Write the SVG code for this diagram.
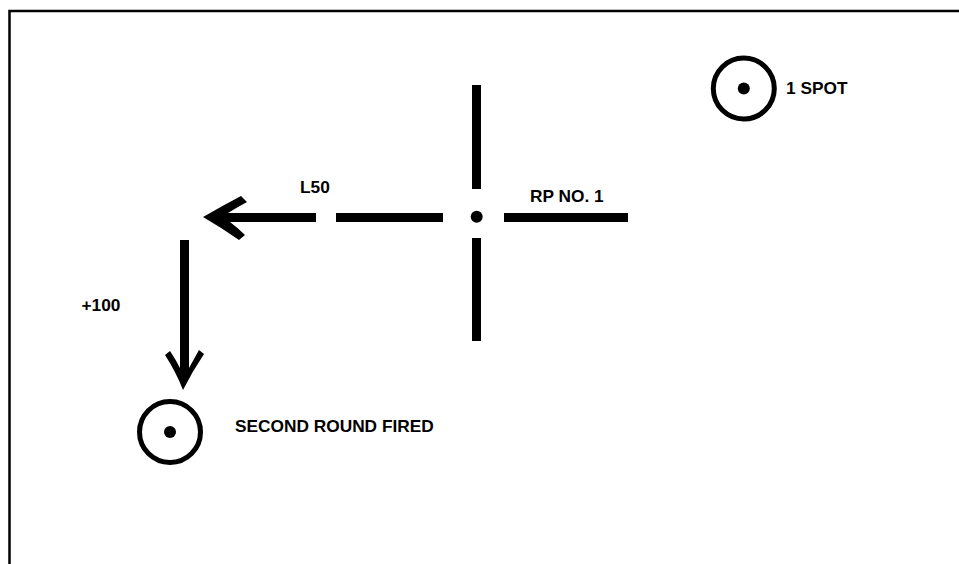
<svg xmlns="http://www.w3.org/2000/svg" width="959" height="564" viewBox="0 0 959 564">
<style>
.lbl{font-family:"Liberation Sans",Arial,sans-serif;font-weight:bold;font-size:17.3px;fill:#000}
.bar{stroke:#000;stroke-width:9;fill:none}
.ring{stroke:#000;stroke-width:5;fill:none}
.dot{fill:#000}
.head{fill:#000;stroke:none}
</style>
<rect width="959" height="564" fill="#fff"/>
<polyline points="9.5,564 9.5,11 959,11" fill="none" stroke="#000" stroke-width="2.5"/>
<g id="spot1">
<circle class="ring" cx="743.8" cy="88.5" r="30.5"/>
<circle class="dot" cx="743.8" cy="88.5" r="6"/>
<text class="lbl" x="786" y="94.3">1 SPOT</text>
</g>
<g id="rp1">
<line class="bar" x1="476.5" y1="85" x2="476.5" y2="189"/>
<line class="bar" x1="476.5" y1="238" x2="476.5" y2="341"/>
<line class="bar" x1="504" y1="217.5" x2="628" y2="217.5"/>
<circle class="dot" cx="476.7" cy="216.8" r="6"/>
<text class="lbl" x="530" y="202.3">RP NO. 1</text>
</g>
<g id="round2">
<circle class="ring" cx="170" cy="432" r="30.5"/>
<circle class="dot" cx="170" cy="432" r="6"/>
<text class="lbl" x="235" y="431.7">SECOND ROUND FIRED</text>
</g>
<g id="connectors">
<line class="bar" x1="336" y1="217.5" x2="443" y2="217.5"/>
<line class="bar" x1="228" y1="217.5" x2="316" y2="217.5"/>
<path class="head" d="M203,217 Q222,206 241,196 L247,202 Q236,208 228,213 L230,222 Q238,228 245,235 L239,240 Q222,228 203,217 Z"/>
<line class="bar" x1="184.5" y1="240" x2="184.5" y2="372"/>
<path class="head" d="M183,390 Q176,372 165,355 L170,351 Q176,360 180,368 L189,368 Q194,359 199,350 L204,354 Q192,372 183,390 Z"/>
<text class="lbl" x="300" y="193.3">L50</text>
<text class="lbl" x="81.5" y="311">+100</text>
</g>
</svg>
